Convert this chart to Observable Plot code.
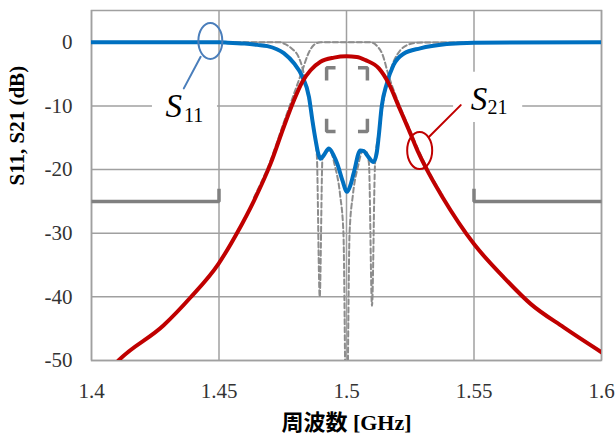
<!DOCTYPE html>
<html><head><meta charset="utf-8">
<script src="https://cdn.jsdelivr.net/npm/d3@7"></script>
<script src="https://cdn.jsdelivr.net/npm/@observablehq/plot@0.6"></script>
<style>
body{margin:0;background:#fff;}
#chart svg, #chart svg text { font-family: 'Liberation Serif', 'Times New Roman', 'Noto Sans CJK JP', serif !important; }
</style>
</head><body><div id="chart"></div>
<script>
// ---- axes ----
const xTicks = [1.4, 1.45, 1.5, 1.55, 1.6];
const xTickLabels = ["1.4", "1.45", "1.5", "1.55", "1.6"];
const yTicks = [0, -10, -20, -30, -40, -50];
const yTickLabels = ["0", "-10", "-20", "-30", "-40", "-50"];
const xTitle = "周波数 [GHz]";
const yTitle = "S11, S21 (dB)";

// ---- measured S11 (blue) ----
const s11Freq = [1.400, 1.450, 1.4534, 1.460, 1.465, 1.469, 1.4754, 1.4794, 1.4827, 1.4853, 1.4866, 1.4879, 1.4890, 1.4898, 1.4910, 1.4931, 1.4950, 1.4964, 1.4984, 1.5002, 1.5015, 1.5028, 1.5054, 1.5068, 1.5080, 1.5106, 1.5118, 1.5126, 1.5138, 1.5158, 1.5184, 1.5224, 1.5289, 1.5393, 1.550, 1.600];
const s11dB   = [0, 0, -0.05, -0.2, -0.4, -0.6, -1.7, -3.3, -5.4, -8.6, -12.2, -15.4, -17.6, -18.3, -17.8, -16.7, -17.8, -19.1, -21.7, -23.5, -22.5, -20.6, -17.0, -17.1, -17.7, -18.8, -17.5, -14.9, -10.1, -6.5, -3.6, -1.8, -0.95, -0.27, -0.05, 0];

// ---- measured S21 (red) ----
const s21Freq = [1.405, 1.4106, 1.4282, 1.4388, 1.4498, 1.4573, 1.4637, 1.4702, 1.4754, 1.4794, 1.4827, 1.4859, 1.4898, 1.4951, 1.5000, 1.5040, 1.5075, 1.5127, 1.5166, 1.5205, 1.5245, 1.5284, 1.5323, 1.5376, 1.5500, 1.5616, 1.5722, 1.5852, 1.6000];
const s21dB   = [-52.5, -50, -44.5, -40.1, -34.8, -29.8, -24.9, -19.1, -13.3, -9.1, -6.2, -4.4, -3.05, -2.4, -2.2, -2.3, -2.8, -4.1, -6.5, -10.1, -13.8, -17.5, -20.6, -24.3, -31.7, -36.9, -41.1, -44.8, -48.7];

// ---- ideal (designed) responses, gray dashed ----
const idealS21Freq = [1.4637, 1.4702, 1.4754, 1.4794, 1.4827, 1.4850, 1.4870, 1.4885, 1.4900, 1.5000, 1.5090, 1.5105, 1.5120, 1.5140, 1.5165, 1.5205, 1.5245, 1.5284, 1.5323, 1.5376];
const idealS21dB   = [-24.4, -18.6, -12.6, -8.1, -4.4, -1.8, -0.5, -0.1, 0, 0, 0, -0.1, -0.6, -1.8, -5.2, -9.6, -13.4, -17.1, -20.3, -24.0];
const idealS11Freq = [1.400, 1.4740, 1.4760, 1.4786, 1.4812, 1.4827, 1.4845, 1.4862, 1.4877, 1.4884, 1.4895, 1.4906, 1.4918, 1.4935, 1.4955, 1.4975, 1.4988, 1.5000, 1.5012, 1.5025, 1.5045, 1.5065, 1.5078, 1.5088, 1.5100, 1.5112, 1.5125, 1.5140, 1.5155, 1.5165, 1.5185, 1.5210, 1.5240, 1.5280, 1.6000];
const idealS11dB   = [0, 0, -0.3, -1.0, -2.3, -4.0, -7.5, -11.0, -15.0, -18.0, -40.0, -18.0, -17.2, -17.0, -19.5, -24.0, -30.0, -65.0, -30.0, -24.0, -19.5, -17.0, -17.2, -19.0, -41.4, -19.0, -14.5, -10.5, -7.0, -5.4, -3.0, -1.3, -0.4, -0.05, 0];

// ---- specification mask (gray solid) ----
const maskSegments = ["stopL", "stopR", "passUL", "passUR", "passLL", "passLR"];
const maskFreq = [[1.4, 1.45, 1.45], [1.6, 1.55, 1.55], [1.4957, 1.4922, 1.4922], [1.5045, 1.5082, 1.5082], [1.4922, 1.4922, 1.4957], [1.5082, 1.5082, 1.5045]];
const maskdB   = [[-25, -25, -23], [-25, -25, -23], [-4, -4, -6], [-4, -4, -6], [-12, -14, -14], [-12, -14, -14]];

// ---- annotations (data coordinates) ----
const annoNames   = ["S", "S"];
const annoSubs    = ["11", "21"];
const annoColors  = ["#4a7ebb", "#c00000"];
const ringFreq    = [1.4466, 1.5287];
const ringdB      = [0.2, -17];
const leaderFreq  = [[1.4428, 1.4362], [1.5323, 1.5448]];
const leaderdB    = [[-2.27, -7.24], [-14.87, -9.87]];
const labelFreq   = [1.4290, 1.5487];
const labeldB     = [-11.8, -10.7];
const subFreq     = [1.4363, 1.5553];
const subdB       = [-12.5, -11.3];
const boxFreq     = [[1.4239, 1.4494], [1.5420, 1.5691]];
const boxdB       = [[-13, -5.9], [-12.6, -4.7]];

// ---- build tables ----
const rows = (f, v) => f.map((x, i) => ({f: x, v: v[i]}));
const s11 = rows(s11Freq, s11dB);
const s21 = rows(s21Freq, s21dB);
const idealS11 = rows(idealS11Freq, idealS11dB);
const idealS21 = rows(idealS21Freq, idealS21dB);
const mask = maskSegments.flatMap((s, k) => maskFreq[k].map((f, i) => ({s, f, v: maskdB[k][i]})));
const leaders = leaderFreq.flatMap((fs, k) => fs.map((f, i) => ({k, f, v: leaderdB[k][i], c: annoColors[k]})));
const rings = ringFreq.map((f, k) => ({f, v: ringdB[k], c: annoColors[k]}));
const labels = labelFreq.map((f, k) => ({f, v: labeldB[k], t: annoNames[k]}));
const subs = subFreq.map((f, k) => ({f, v: subdB[k], t: annoSubs[k]}));
const boxes = boxFreq.map((fs, k) => ({f1: fs[0], f2: fs[1], v1: boxdB[k][0], v2: boxdB[k][1]}));

// ellipse symbol (rx, ry in px)
const ellipse = (rx, ry) => ({
  draw(ctx) {
    const k = 0.5523;
    ctx.moveTo(rx, 0);
    ctx.bezierCurveTo(rx, ry * k, rx * k, ry, 0, ry);
    ctx.bezierCurveTo(-rx * k, ry, -rx, ry * k, -rx, 0);
    ctx.bezierCurveTo(-rx, -ry * k, -rx * k, -ry, 0, -ry);
    ctx.bezierCurveTo(rx * k, -ry, rx, -ry * k, rx, 0);
    ctx.closePath();
  }
});

const serif = "'Liberation Serif', 'Times New Roman', 'Noto Sans CJK JP', serif";
const gridColor = "#a0a0a0";

const chart = Plot.plot({
  width: 615, height: 437,
  marginLeft: 91, marginRight: 14, marginTop: 10, marginBottom: 77,
  style: {fontFamily: serif, fontSize: "21px", color: "#333", background: "#fff"},
  x: {domain: [1.4, 1.6]},
  y: {domain: [-50, 5]},
  marks: [
    Plot.gridX(xTicks, {stroke: gridColor, strokeOpacity: 1, strokeWidth: 1.5}),
    Plot.gridY(yTicks, {stroke: gridColor, strokeOpacity: 1, strokeWidth: 1.5}),
    Plot.frame({stroke: gridColor, strokeWidth: 1.5}),
    Plot.axisX(xTicks, {tickSize: 0, tickPadding: 23, tickFormat: d => xTickLabels[xTicks.indexOf(d)], label: null, fontSize: 21, fontFamily: serif}),
    Plot.axisY(yTicks, {tickSize: 0, tickPadding: 19, tickFormat: d => yTickLabels[yTicks.indexOf(d)], label: null, fontSize: 21, fontFamily: serif}),
    Plot.text([xTitle], {frameAnchor: "bottom", dy: 69, fontWeight: "bold", fontSize: 22, fill: "#000", fontFamily: serif}),
    Plot.text([yTitle], {frameAnchor: "left", dx: -74, rotate: -90, fontWeight: "bold", fontSize: 21, fill: "#000", fontFamily: serif}),
    // mask
    Plot.line(mask, {x: "f", y: "v", z: "s", stroke: "#808080", strokeWidth: 3.5, strokeLinecap: "butt", strokeLinejoin: "miter"}),
    // ideal responses
    Plot.line(idealS11, {x: "f", y: "v", stroke: "#8c8c8c", strokeWidth: 2, strokeDasharray: "5,3", curve: "monotone-x", clip: true}),
    Plot.line(idealS21, {x: "f", y: "v", stroke: "#8c8c8c", strokeWidth: 2, strokeDasharray: "5,3", curve: "monotone-x", clip: true}),
    // measured
    Plot.line(s11, {x: "f", y: "v", stroke: "#0070c0", strokeWidth: 4, curve: "monotone-x", clip: true}),
    Plot.line(s21, {x: "f", y: "v", stroke: "#c00000", strokeWidth: 4, curve: "monotone-x", clip: true}),
    // annotations
    Plot.rect(boxes, {x1: "f1", x2: "f2", y1: "v1", y2: "v2", fill: "#fff"}),
    Plot.dot(rings.slice(0, 1), {x: "f", y: "v", stroke: "c", strokeWidth: 2, fill: "none", symbol: ellipse(12, 18)}),
    Plot.dot(rings.slice(1), {x: "f", y: "v", stroke: "c", strokeWidth: 2, fill: "none", symbol: ellipse(12.5, 18.5)}),
    Plot.line(leaders, {x: "f", y: "v", z: "k", stroke: "c", strokeWidth: 2}),
    Plot.text(labels, {x: "f", y: "v", text: "t", textAnchor: "start", lineAnchor: "bottom", fontStyle: "italic", fontSize: 33, fill: "#000", fontFamily: serif}),
    Plot.text(subs, {x: "f", y: "v", text: "t", textAnchor: "start", lineAnchor: "bottom", fontSize: 20, fill: "#000", fontFamily: serif})
  ]
});
document.getElementById("chart").appendChild(chart);
</script>
</body></html>
